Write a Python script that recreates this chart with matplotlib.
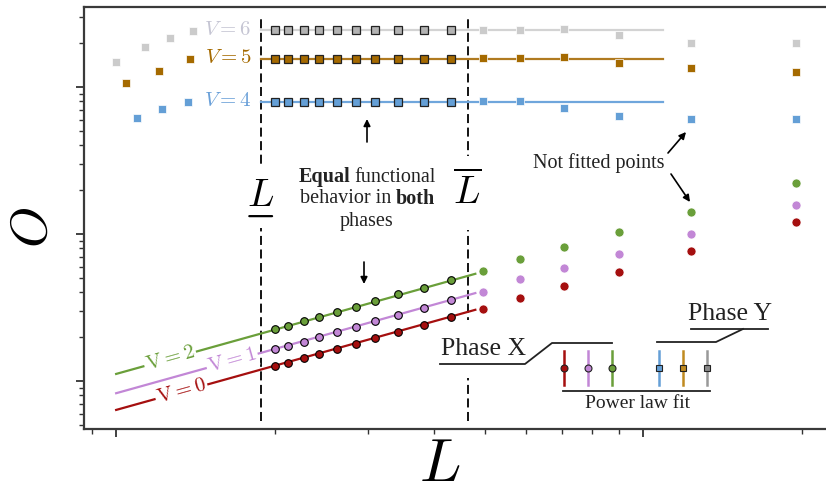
import numpy as np
import matplotlib
matplotlib.use("Agg")
import matplotlib.pyplot as plt
from matplotlib.lines import Line2D
from matplotlib.patches import FancyArrowPatch, Rectangle
from matplotlib.ticker import LogLocator, NullFormatter

plt.rcParams['mathtext.fontset'] = 'cm'
plt.rcParams['font.family'] = ['Liberation Serif', 'DejaVu Serif']

W, H = 826, 496

# borders of the fitted window
L_low = 18.8
L_high = 46.4

L_fit = [20.0, 21.2, 22.7, 24.3, 26.2, 28.5, 31.0, 34.3, 38.3, 43.2]
L_after = [49.6, 58.4, 70.8, 90.0, 123.3, 194.5]

# phase X (circles): V = 0, 1, 2
O_v0_fit = [1.27, 1.33, 1.43, 1.53, 1.65, 1.79, 1.95, 2.14, 2.39, 2.71]
O_v1_fit = [1.64, 1.73, 1.85, 1.98, 2.14, 2.33, 2.55, 2.80, 3.12, 3.54]
O_v2_fit = [2.25, 2.37, 2.56, 2.74, 2.96, 3.20, 3.50, 3.89, 4.31, 4.86]
O_v0_after = [3.09, 3.67, 4.43, 5.51, 7.70, 12.0]
O_v1_after = [4.05, 4.94, 5.87, 7.31, 9.95, 15.8]
O_v2_after = [5.63, 6.76, 8.16, 10.3, 14.1, 22.3]
# power law O = a * L^b, drawn over this L range
fit_a = [0.0635, 0.0825, 0.1116]
fit_b = [1.0, 1.0, 1.0]
fit_range_x = [10.0, 48.0]

# phase Y (squares): V = 4, 5, 6
L_before_v4 = [10.97, 12.21, 13.71]
L_before_v5 = [10.43, 12.08, 13.82]
L_before_v6 = [10.0, 11.35, 12.66, 13.98]
O_v4_before = [61.2, 70.5, 79.4]
O_v5_before = [106.0, 129.0, 154.0]
O_v6_before = [149.0, 186.0, 214.0, 240.0]
O_v4_fit = [79.4, 79.4, 79.4, 79.4, 79.4, 79.4, 79.4, 79.4, 79.4, 79.4]
O_v5_fit = [156.0, 156.0, 156.0, 156.0, 156.0, 156.0, 156.0, 156.0, 156.0, 156.0]
O_v6_fit = [244.0, 244.0, 244.0, 244.0, 244.0, 244.0, 244.0, 244.0, 244.0, 244.0]
O_v4_after = [79.9, 80.7, 71.6, 63.8, 60.3, 60.3]
O_v5_after = [156.8, 158.3, 159.2, 146.3, 134.0, 127.1]
O_v6_after = [244.0, 244.0, 247.0, 224.7, 198.3, 198.3]
const_fit = [79.4, 156.0, 244.0]
fit_range_y = [18.8, 109.0]

c_red, c_pur, c_grn = '#a50f0f', '#c287d6', '#6a9f3a'
c_blu, c_brn, c_gry = '#649fd6', '#a56a00', '#cbcbcb'
txt_c = '#222222'


def px(x, y):
    return (x / W, 1 - y / H)


fig = plt.figure(figsize=(W / 100, H / 100), dpi=100)
ax = fig.add_axes([84 / W, 1 - 429 / H, 1 - 84 / W, 422 / H])
ax.set_xscale('log')
ax.set_yscale('log')
ax.set_xlim(8.69, 222)
ax.set_ylim(0.471, 350)
for a in (ax.xaxis, ax.yaxis):
    a.set_major_locator(LogLocator(base=10))
    a.set_minor_locator(LogLocator(base=10, subs=np.arange(2, 10)))
    a.set_major_formatter(NullFormatter())
    a.set_minor_formatter(NullFormatter())
ax.tick_params(which='major', direction='out', length=6, width=1.3, color='#333333')
ax.tick_params(which='minor', direction='out', length=3.5, width=1.0, color='#333333')
ax.spines['right'].set_visible(False)
for s in ('left', 'bottom', 'top'):
    ax.spines[s].set_linewidth(1.6)
    ax.spines[s].set_color('#3a3a3a')

ax.set_xlabel(r'$L$', fontsize=44, va='center')
ax.xaxis.set_label_coords((440 - 84) / 742, (429 - 466) / 422)
ax.set_ylabel(r'$O$', fontsize=38, va='center')
ax.yaxis.set_label_coords((34 - 84) / 742, (429 - 228) / 422)

# window borders
for xv in (L_low, L_high):
    ax.axvline(xv, ymin=0.02, ymax=0.975, color='black', lw=1.3, ls=(0, (5, 2.5)), zorder=1)

# phase X
xs = np.array(fit_range_x)
lo_cols = [c_red, c_pur, c_grn]
for a_, b_, c in zip(fit_a, fit_b, lo_cols):
    ax.plot(xs, a_ * xs ** b_, color=c, lw=1.6, zorder=2)
for O_fit, O_aft, c in zip([O_v0_fit, O_v1_fit, O_v2_fit],
                           [O_v0_after, O_v1_after, O_v2_after], lo_cols):
    ax.plot(L_fit, O_fit, 'o', ms=5.5, mfc=c, mec='black', mew=0.8, zorder=4)
    ax.plot(L_after, O_aft, 'o', ms=6.5, mfc=c, mec='white', mew=0.5, zorder=3)

# phase Y
ys = np.array(fit_range_y)
hi_cols = [c_blu, c_brn, c_gry]
hi_lines = ['#6fa6dc', '#b07a20', '#d3d3d3']
hi_face = [c_blu, c_brn, '#b3b3b3']
for yc, lc in zip(const_fit, hi_lines):
    ax.plot(ys, [yc, yc], color=lc, lw=1.6, zorder=2)
for Lb, Ob, O_fit, O_aft, c, fc in zip([L_before_v4, L_before_v5, L_before_v6],
                                       [O_v4_before, O_v5_before, O_v6_before],
                                       [O_v4_fit, O_v5_fit, O_v6_fit],
                                       [O_v4_after, O_v5_after, O_v6_after],
                                       hi_cols, hi_face):
    ax.plot(Lb, Ob, 's', ms=6, mfc=c, mec='white', mew=0.5, zorder=3)
    ax.plot(L_fit, O_fit, 's', ms=5.2, mfc=fc, mec='#222222', mew=0.9, zorder=4)
    ax.plot(L_after, O_aft, 's', ms=6, mfc=c, mec='white', mew=0.5, zorder=3)

# labels of phase Y curves
for yc, lab, c in zip(const_fit, ['4', '5', '6'], ['#6aa0d8', c_brn, '#c5c5d3']):
    ax.text(16.3, yc, r'$V = %s$' % lab, color=c, fontsize=15, ha='center', va='center',
            zorder=5, bbox=dict(fc='white', ec='none', pad=1))

# labels of phase X curves, along the lines
lab_x = [13.3, 16.6, 12.66]
for a_, b_, c, lab, lx in zip(fit_a, fit_b, lo_cols, ['0', '1', '2'], lab_x):
    p0 = ax.transData.transform((10, a_ * 10 ** b_))
    p1 = ax.transData.transform((40, a_ * 40 ** b_))
    ang = np.degrees(np.arctan2(p1[1] - p0[1], p1[0] - p0[0]))
    ax.text(lx, a_ * lx ** b_, r'$\mathrm{V} = %s$' % lab, color=c, fontsize=15,
            rotation=ang, rotation_mode='anchor', ha='center', va='center', zorder=5,
            bbox=dict(fc='white', ec='none', pad=1))

# L and Lbar
tL = ax.text(L_low, 0.55, r'$L$', transform=ax.get_xaxis_transform(), fontsize=28,
             ha='center', va='center', zorder=5, bbox=dict(fc='white', ec='none', pad=9))
ax.annotate('', xy=(0.92, -0.02), xytext=(0.08, -0.02), xycoords=tL, textcoords=tL, zorder=7,
            arrowprops=dict(arrowstyle='-', lw=1.6, color='black', shrinkA=0, shrinkB=0))
ax.text(L_high, 0.56, r'$\overline{L}$', transform=ax.get_xaxis_transform(), fontsize=28,
        ha='center', va='center', zorder=5, bbox=dict(fc='white', ec='none', pad=12))


def mixed_line(parts, cx, cy, size):
    r = fig.canvas.get_renderer()
    texts = [fig.text(0, 0, s, fontsize=size, weight=w, ha='left', va='center', color=txt_c)
             for s, w in parts]
    widths = [t.get_window_extent(r).width for t in texts]
    gap = 0.22 * size * 100 / 72
    x = cx - (sum(widths) + gap * (len(parts) - 1)) / 2
    for t, w in zip(texts, widths):
        t.set_position(px(x, cy))
        x += w + gap


mixed_line([('Equal', 'bold'), ('functional', 'normal')], 367, 177, 14.5)
mixed_line([('behavior in', 'normal'), ('both', 'bold')], 367, 199, 14.5)
mixed_line([('phases', 'normal')], 367, 222, 14.5)

arr = dict(arrowstyle='-|>', lw=1.2, color='black', mutation_scale=10, shrinkA=0, shrinkB=0)
fig.add_artist(FancyArrowPatch(px(367, 142), px(367, 119), transform=fig.transFigure, **arr))
fig.add_artist(FancyArrowPatch(px(364, 262), px(364, 284), transform=fig.transFigure, **arr))

fig.text(*px(599, 163), 'Not fitted points', fontsize=14.5, ha='center', va='center', color=txt_c)
fig.add_artist(FancyArrowPatch(px(668, 153), px(686, 132), transform=fig.transFigure, **arr))
fig.add_artist(FancyArrowPatch(px(671, 174), px(690, 202), transform=fig.transFigure, **arr))

# phase labels and power-law key
fig.add_artist(Rectangle(px(462, 378), 10 / W, 58 / H, transform=fig.transFigure,
                         fc='white', ec='none', zorder=3))
fig.text(*px(484, 349), 'Phase X', fontsize=18.5, ha='center', va='center', color=txt_c,
         bbox=dict(fc='white', ec='none', pad=2))
fig.text(*px(730, 314), 'Phase Y', fontsize=18.5, ha='center', va='center', color=txt_c)
fig.add_artist(Line2D([440 / W, 525 / W, 552 / W, 612 / W],
                      [1 - 364 / H, 1 - 364 / H, 1 - 343 / H, 1 - 343 / H],
                      transform=fig.transFigure, color=txt_c, lw=1.3, zorder=6))
fig.add_artist(Line2D([691 / W, 768 / W], [1 - 329 / H, 1 - 329 / H],
                      transform=fig.transFigure, color=txt_c, lw=1.3, zorder=6))
fig.add_artist(Line2D([743 / W, 716 / W, 657 / W], [1 - 329 / H, 1 - 342 / H, 1 - 342 / H],
                      transform=fig.transFigure, color=txt_c, lw=1.3, zorder=6))

key_x = [564, 588, 612, 659, 683, 707]
key_c = [c_red, c_pur, c_grn, c_blu, '#c08a20', '#8a8a8a']
key_line = [c_red, c_pur, c_grn, c_blu, '#c08a20', '#999999']
key_m = ['o', 'o', 'o', 's', 's', 's']
for kx, kc, kl, km in zip(key_x, key_c, key_line, key_m):
    fig.add_artist(Line2D([kx / W, kx / W], [1 - 351 / H, 1 - 385 / H], transform=fig.transFigure,
                          color=kl, lw=1.8, zorder=6))
    fig.add_artist(Line2D([kx / W], [1 - 368 / H], transform=fig.transFigure, marker=km, ms=5,
                          mfc=kc, mec=txt_c, mew=0.8, ls='none', zorder=7))
fig.add_artist(Line2D([563 / W, 710 / W], [1 - 391 / H, 1 - 391 / H], transform=fig.transFigure,
                      color=txt_c, lw=1.3, zorder=6))
fig.text(*px(638, 404), 'Power law fit', fontsize=14, ha='center', va='center', color=txt_c)

fig.savefig('out.png', dpi=100)
